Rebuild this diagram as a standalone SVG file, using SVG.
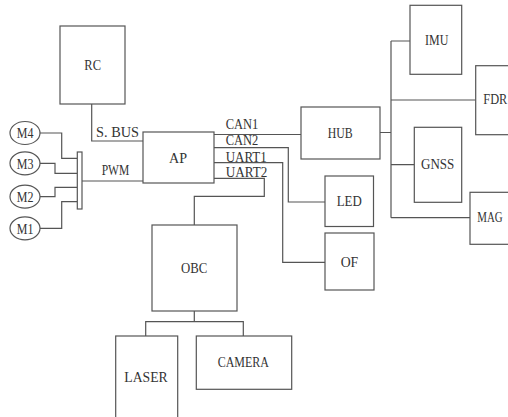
<svg xmlns="http://www.w3.org/2000/svg" width="508" height="417" viewBox="0 0 508 417">
<style>
.b{fill:#fff;stroke:#555;stroke-width:1.2}
.c{fill:none;stroke:#555;stroke-width:1.2}
text{font-family:"Liberation Serif","DejaVu Serif",serif;font-size:15px;fill:#333}
</style>
<rect width="508" height="417" fill="#fff"/>
<g id="connectors" class="c">
<path d="M91.7 104V141H143"/>
<path d="M82 181H143"/>
<path d="M40 133H61.7V158.3H77"/>
<path d="M40 163.3H55V173.3H77"/>
<path d="M40 196.7H55V187.3H77"/>
<path d="M40 228.3H61.7V201.7H77"/>
<path d="M214 134.5H301"/>
<path d="M214 147.7H288.3V202H325"/>
<path d="M214 162.7H282.7V262.3H325"/>
<path d="M214 178.3H264.3V196.3H194.3V225"/>
<path d="M194.3 311V321.7M145.7 336V321.7H243.3V336"/>
<path d="M380 132.5H391M391 41V217.7M391 41H410M391 100H475.7M391 164.7H414.3M391 217.7H470"/>
</g>
<g id="bar"><rect x="77.3" y="152" width="4.7" height="57" class="b"/></g>
<g id="RC"><rect x="60" y="26" width="65" height="78" class="b"/><text x="84.3" y="70" textLength="16.7" lengthAdjust="spacingAndGlyphs">RC</text></g>
<g id="AP"><rect x="143" y="132" width="71" height="51" class="b"/><text x="169" y="162.7" textLength="18" lengthAdjust="spacingAndGlyphs">AP</text></g>
<g id="M4"><ellipse cx="25" cy="133" rx="15" ry="11.5" class="b"/><text x="16.7" y="138.3" textLength="16.7" lengthAdjust="spacingAndGlyphs">M4</text></g>
<g id="M3"><ellipse cx="25" cy="163.3" rx="15" ry="11.5" class="b"/><text x="16.7" y="168.6" textLength="16.7" lengthAdjust="spacingAndGlyphs">M3</text></g>
<g id="M2"><ellipse cx="25" cy="196.7" rx="15" ry="11.5" class="b"/><text x="16.7" y="202" textLength="16.7" lengthAdjust="spacingAndGlyphs">M2</text></g>
<g id="M1"><ellipse cx="25" cy="228.3" rx="15" ry="11.5" class="b"/><text x="16.7" y="233.6" textLength="16.7" lengthAdjust="spacingAndGlyphs">M1</text></g>
<g id="HUB"><rect x="301" y="107" width="79" height="52" class="b"/><text x="327.7" y="137.7" textLength="25" lengthAdjust="spacingAndGlyphs">HUB</text></g>
<g id="LED"><rect x="325" y="176" width="48.5" height="50.5" class="b"/><text x="336.7" y="205.7" textLength="25" lengthAdjust="spacingAndGlyphs">LED</text></g>
<g id="OF"><rect x="325" y="233" width="49" height="57" class="b"/><text x="340.7" y="266.7" textLength="17.6" lengthAdjust="spacingAndGlyphs">OF</text></g>
<g id="OBC"><rect x="152" y="225" width="85" height="86" class="b"/><text x="181" y="273.3" textLength="26.3" lengthAdjust="spacingAndGlyphs">OBC</text></g>
<g id="LASER"><rect x="115.7" y="336" width="62" height="90" class="b"/><text x="124.3" y="382.3" textLength="43.4" lengthAdjust="spacingAndGlyphs">LASER</text></g>
<g id="CAMERA"><rect x="196.3" y="336" width="95.4" height="53.3" class="b"/><text x="217.7" y="367.3" textLength="51.3" lengthAdjust="spacingAndGlyphs">CAMERA</text></g>
<g id="IMU"><rect x="410" y="5.3" width="51.7" height="69" class="b"/><text x="425" y="45" textLength="23.3" lengthAdjust="spacingAndGlyphs">IMU</text></g>
<g id="FDR"><rect x="475.7" y="65.7" width="40" height="69" class="b"/><text x="483.3" y="104.3" textLength="24" lengthAdjust="spacingAndGlyphs">FDR</text></g>
<g id="GNSS"><rect x="414.3" y="127.3" width="47.4" height="75" class="b"/><text x="421" y="169" textLength="33.3" lengthAdjust="spacingAndGlyphs">GNSS</text></g>
<g id="MAG"><rect x="470" y="192.3" width="45" height="52" class="b"/><text x="477.3" y="222.3" textLength="25.4" lengthAdjust="spacingAndGlyphs">MAG</text></g>
<g id="labels">
<text x="96" y="136.7" textLength="43" lengthAdjust="spacingAndGlyphs">S. BUS</text>
<text x="101.7" y="175" textLength="27.6" lengthAdjust="spacingAndGlyphs">PWM</text>
<text x="225.7" y="129.3" textLength="32.6" lengthAdjust="spacingAndGlyphs">CAN1</text>
<text x="225.7" y="145" textLength="32.6" lengthAdjust="spacingAndGlyphs">CAN2</text>
<text x="225.7" y="161.7" textLength="41" lengthAdjust="spacingAndGlyphs">UART1</text>
<text x="225.7" y="176.7" textLength="41.6" lengthAdjust="spacingAndGlyphs">UART2</text>
</g>
</svg>
